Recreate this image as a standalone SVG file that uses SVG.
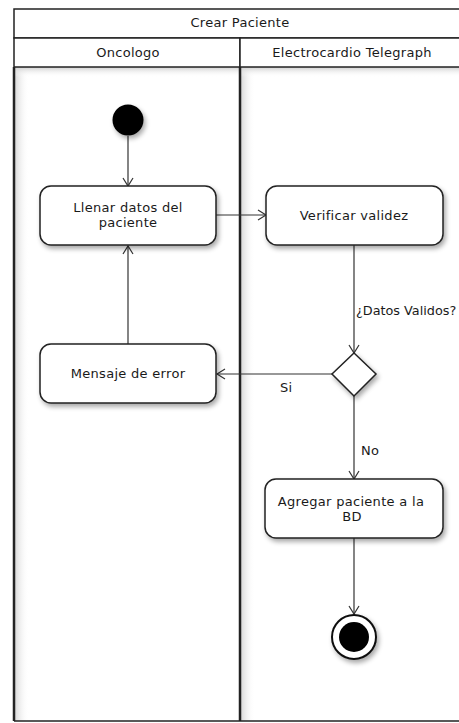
<svg xmlns="http://www.w3.org/2000/svg" width="459" height="723" viewBox="0 0 459 723">
<defs>
<style>
text{font-family:"DejaVu Sans","Liberation Sans",sans-serif;font-size:13px;letter-spacing:0.3px;fill:#1a1a1a}
.c{text-anchor:middle}
.node{fill:#fff;stroke:#222;stroke-width:1.5}
.edge{fill:none;stroke:#333;stroke-width:1.2}
.hdr{fill:#fff;stroke:#222;stroke-width:1.5}
</style>
<filter id="sh" x="-20%" y="-20%" width="150%" height="160%">
<feGaussianBlur in="SourceAlpha" stdDeviation="2.5"/>
<feOffset dx="2" dy="3" result="b"/>
<feComponentTransfer><feFuncA type="linear" slope="0.35"/></feComponentTransfer>
<feMerge><feMergeNode/><feMergeNode in="SourceGraphic"/></feMerge>
</filter>
<linearGradient id="lg" x1="0" y1="0" x2="1" y2="0">
<stop offset="0" stop-color="#d8d8d8"/>
<stop offset="1" stop-color="#ffffff" stop-opacity="0"/>
</linearGradient>
<linearGradient id="tg" x1="0" y1="0" x2="0" y2="1">
<stop offset="0" stop-color="#cfcfcf"/>
<stop offset="1" stop-color="#ffffff" stop-opacity="0"/>
</linearGradient>
<marker id="ar" markerWidth="12" markerHeight="12" refX="9" refY="6" orient="auto" markerUnits="userSpaceOnUse">
<path d="M1,1 L9,6 L1,11" fill="none" stroke="#333" stroke-width="1.2"/>
</marker>
</defs>
<rect width="459" height="723" fill="#fff"/>
<g id="frame">
<rect x="14" y="67" width="452" height="654" fill="#fff"/>
<rect x="15" y="67" width="14" height="654" fill="url(#lg)"/>
<rect x="241" y="67" width="14" height="654" fill="url(#lg)"/>
<rect x="14" y="67" width="452" height="10" fill="url(#tg)"/>
<rect x="14" y="9" width="452" height="29" class="hdr"/>
<text x="240" y="27" class="c">Crear Paciente</text>
<rect x="14" y="38" width="226" height="29" class="hdr"/>
<rect x="240" y="38" width="226" height="29" class="hdr"/>
<text x="128" y="57" class="c">Oncologo</text>
<text x="352" y="57" class="c">Electrocardio Telegraph</text>
<line x1="14" y1="67" x2="14" y2="721" stroke="#222" stroke-width="2.5"/>
<line x1="240" y1="67" x2="240" y2="721" stroke="#222" stroke-width="2.5"/>
<line x1="14" y1="721" x2="466" y2="721" stroke="#222" stroke-width="1.5"/>
</g>
<g id="edges">
<line x1="128" y1="136" x2="128" y2="186" class="edge" marker-end="url(#ar)"/>
<line x1="216" y1="215" x2="266" y2="215" class="edge" marker-end="url(#ar)"/>
<line x1="354" y1="245" x2="354" y2="353" class="edge" marker-end="url(#ar)"/>
<text x="356" y="315" style="letter-spacing:0;font-size:12.8px">¿Datos Validos?</text>
<line x1="332" y1="374" x2="217" y2="374" class="edge" marker-end="url(#ar)"/>
<text x="280" y="392">Si</text>
<line x1="128" y1="344" x2="128" y2="246" class="edge" marker-end="url(#ar)"/>
<line x1="354" y1="396" x2="354" y2="479" class="edge" marker-end="url(#ar)"/>
<text x="361" y="455">No</text>
<line x1="354" y1="538" x2="354" y2="614" class="edge" marker-end="url(#ar)"/>
</g>
<g id="start">
<circle cx="128" cy="120" r="15.5" fill="#000" filter="url(#sh)"/>
</g>
<g id="llenar">
<rect x="40" y="186" width="176" height="59" rx="11" class="node" filter="url(#sh)"/>
<text x="128" y="212" class="c">Llenar datos del</text>
<text x="128" y="227" class="c">paciente</text>
</g>
<g id="verificar">
<rect x="266" y="186" width="177" height="59" rx="11" class="node" filter="url(#sh)"/>
<text x="354" y="220" class="c">Verificar validez</text>
</g>
<g id="decision">
<polygon points="354,353 376,374 354,396 332,374" class="node" filter="url(#sh)"/>
</g>
<g id="mensaje">
<rect x="40" y="344" width="176" height="59" rx="11" class="node" filter="url(#sh)"/>
<text x="128" y="378" class="c">Mensaje de error</text>
</g>
<g id="agregar">
<rect x="265" y="479" width="178" height="59" rx="11" class="node" filter="url(#sh)"/>
<text x="351" y="506" class="c">Agregar paciente a la</text>
<text x="352" y="521" class="c">BD</text>
</g>
<g id="end">
<circle cx="354" cy="637" r="22" fill="#fff" stroke="#111" stroke-width="2" filter="url(#sh)"/>
<circle cx="354" cy="637" r="15" fill="#000"/>
</g>
</svg>
